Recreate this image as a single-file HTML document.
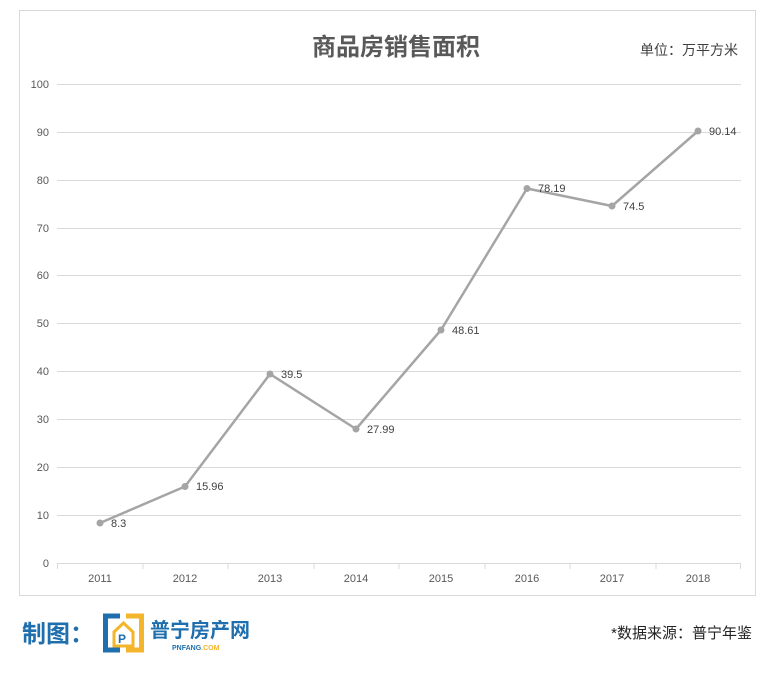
<!DOCTYPE html>
<html><head><meta charset="utf-8"><style>
body{margin:0;background:#fff;width:775px;height:673px;overflow:hidden;font-family:"Liberation Sans","Noto Sans CJK SC",sans-serif;}
</style></head><body>
<svg width="775" height="673" xmlns="http://www.w3.org/2000/svg" font-family="Liberation Sans, Noto Sans CJK SC, sans-serif">
<rect x="19.5" y="10.5" width="736" height="585" fill="#fff" stroke="#d9d9d9"/>
<text x="396" y="55" text-anchor="middle" font-size="24" font-weight="bold" fill="#595959">商品房销售面积</text>
<text x="738" y="55" text-anchor="end" font-size="14" fill="#404040">单位：万平方米</text>
<g stroke="#d9d9d9" stroke-width="1">
<line x1="57" y1="84.5" x2="741" y2="84.5"/>
<line x1="57" y1="132.5" x2="741" y2="132.5"/>
<line x1="57" y1="180.5" x2="741" y2="180.5"/>
<line x1="57" y1="228.5" x2="741" y2="228.5"/>
<line x1="57" y1="275.5" x2="741" y2="275.5"/>
<line x1="57" y1="323.5" x2="741" y2="323.5"/>
<line x1="57" y1="371.5" x2="741" y2="371.5"/>
<line x1="57" y1="419.5" x2="741" y2="419.5"/>
<line x1="57" y1="467.5" x2="741" y2="467.5"/>
<line x1="57" y1="515.5" x2="741" y2="515.5"/>
<line x1="57" y1="563.5" x2="741" y2="563.5"/>
<line x1="57.5" y1="563" x2="57.5" y2="569"/><line x1="143" y1="563" x2="143" y2="569"/><line x1="228" y1="563" x2="228" y2="569"/><line x1="314" y1="563" x2="314" y2="569"/><line x1="399" y1="563" x2="399" y2="569"/><line x1="485" y1="563" x2="485" y2="569"/><line x1="570" y1="563" x2="570" y2="569"/><line x1="656" y1="563" x2="656" y2="569"/><line x1="740.5" y1="563" x2="740.5" y2="569"/>
</g>
<g font-size="11" fill="#595959" text-anchor="end">
<text x="49" y="88">100</text><text x="49" y="136">90</text><text x="49" y="184">80</text><text x="49" y="232">70</text><text x="49" y="279">60</text><text x="49" y="327">50</text><text x="49" y="375">40</text><text x="49" y="423">30</text><text x="49" y="471">20</text><text x="49" y="519">10</text><text x="49" y="567">0</text>
</g>
<g font-size="11" fill="#595959" text-anchor="middle">
<text x="100" y="582">2011</text><text x="185" y="582">2012</text><text x="270" y="582">2013</text><text x="356" y="582">2014</text><text x="441" y="582">2015</text><text x="527" y="582">2016</text><text x="612" y="582">2017</text><text x="698" y="582">2018</text>
</g>
<polyline fill="none" stroke="#a5a5a5" stroke-width="2.5" stroke-linejoin="round" points="100,523 185,486.5 270,374 356,429 441,330 527,188.5 612,206 698,131"/>
<g fill="#a5a5a5">
<circle cx="100" cy="523" r="3.5"/><circle cx="185" cy="486.5" r="3.5"/><circle cx="270" cy="374" r="3.5"/><circle cx="356" cy="429" r="3.5"/><circle cx="441" cy="330" r="3.5"/><circle cx="527" cy="188.5" r="3.5"/><circle cx="612" cy="206" r="3.5"/><circle cx="698" cy="131" r="3.5"/>
</g>
<g font-size="11" fill="#404040">
<text x="111" y="527">8.3</text><text x="196" y="490">15.96</text><text x="281" y="378">39.5</text><text x="367" y="433">27.99</text><text x="452" y="334">48.61</text><text x="538" y="192">78.19</text><text x="623" y="210">74.5</text><text x="709" y="135">90.14</text>
</g>
<text x="22" y="642" font-size="24" font-weight="bold" fill="#1f6fae">制图：</text>
<g fill="none" stroke-width="5">
<path d="M120 616 H105.5 V650 H120" stroke="#1f6fae"/>
<path d="M126 616 H141.5 V650 H126" stroke="#f3b52b"/>
<path d="M114 632 L123.5 623 L133 632 V646 H114 Z" stroke="#f3b52b" stroke-width="3"/>
<text x="118" y="643" font-size="12" font-weight="bold" fill="#1f6fae" stroke="none">P</text>
</g>
<text x="150" y="637" font-size="20" font-weight="bold" fill="#1f6fae">普宁房产网</text>
<text x="172" y="650" font-size="7" font-weight="bold" fill="#1f6fae">PNFANG<tspan fill="#f3b52b">.COM</tspan></text>
<text x="752" y="638" text-anchor="end" font-size="15" fill="#222">*数据来源：普宁年鉴</text>
</svg>
</body></html>
